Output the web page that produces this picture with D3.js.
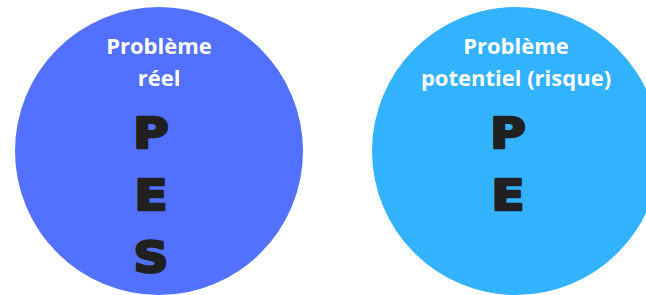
<!DOCTYPE html>
<html>
<head>
<meta charset="utf-8">
<script src="https://cdn.jsdelivr.net/npm/d3@7"></script>
<style>
  html, body { margin: 0; padding: 0; background: #fff; }
  svg { display: block; }
</style>
</head>
<body>
<script>
// categories and their text
let categories = ['reel', 'potentiel'];
let titles = [['Problème', 'réel'], ['Problème', 'potentiel (risque)']];
let letters = [['P', 'E', 'S'], ['P', 'E']];
let colors = ['#5271ff', '#33b2ff'];

let width = 646,
    height = 295,
    radius = 144;

var svg = d3.select('body')
    .append('svg')
    .attr('width', width)
    .attr('height', height);

var x = d3.scalePoint() // circle centres
    .domain(categories)
    .range([159, 516]);

var letterY = d3.scalePoint() // baselines of P / E / S
    .domain([0, 1, 2])
    .range([148, 272]);

var titleY = d3.scalePoint() // baselines of title lines
    .domain([0, 1])
    .range([54, 86]);

var group = svg.selectAll('g.circle')
    .data(categories)
    .enter()
    .append('g')
    .attr('class', 'circle')
    .attr('transform', function(d){ return `translate(${x(d)},151)`; });

group.append('circle')
    .attr('r', radius)
    .attr('fill', function(d, i){ return colors[i]; });

group.each(function(d, i){
    var g = d3.select(this);
    g.selectAll('text.title')
        .data(titles[i])
        .enter()
        .append('text')
        .attr('class', 'title')
        .attr('x', 0)
        .attr('y', function(t, j){ return titleY(j) - 151; })
        .attr('text-anchor', 'middle')
        .attr('font-family', 'Open Sans, sans-serif')
        .attr('font-weight', 700)
        .attr('font-size', 22)
        .attr('fill', '#fff')
        .text(function(t){ return t; });

    g.selectAll('text.letter')
        .data(letters[i])
        .enter()
        .append('text')
        .attr('class', 'letter')
        .attr('transform', function(t, j){ return `translate(-8,${letterY(j) - 151}) scale(1.15,1)`; })
        .attr('text-anchor', 'middle')
        .attr('font-family', 'DejaVu Sans, sans-serif')
        .attr('font-weight', 900)
        .attr('font-size', 42)
        .attr('fill', '#202020')
        .attr('stroke', '#202020')
        .attr('stroke-width', 2.5)
        .attr('stroke-linejoin', 'round')
        .text(function(t){ return t; });
});
</script>
</body>
</html>
